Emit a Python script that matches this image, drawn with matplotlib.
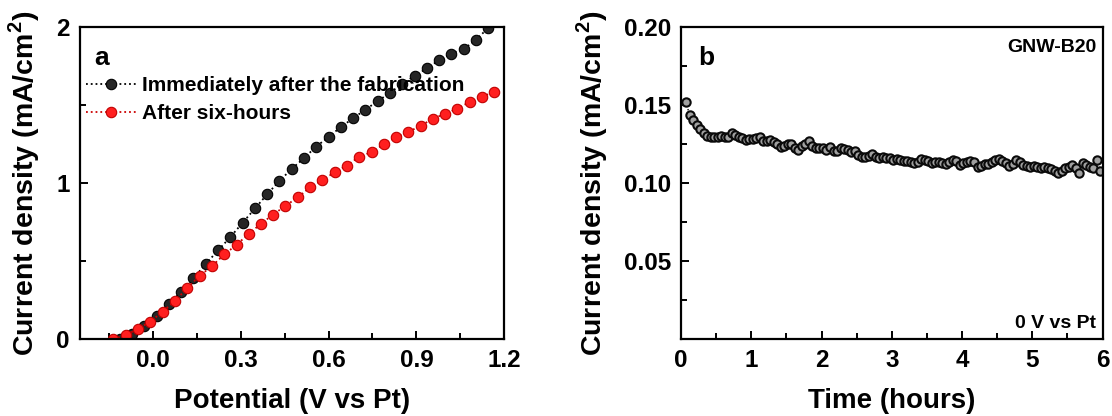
import numpy as np
import matplotlib
matplotlib.use("Agg")
import matplotlib.pyplot as plt
from matplotlib.ticker import MultipleLocator, FixedLocator

plt.rcParams['font.family'] = ['Liberation Sans', 'DejaVu Sans']
plt.rcParams['font.weight'] = 'bold'
plt.rcParams['mathtext.fontset'] = 'custom'
plt.rcParams['mathtext.bf'] = 'Liberation Sans:bold'
plt.rcParams['mathtext.rm'] = 'Liberation Sans:bold'

# panel a: J-V curves
v_fresh = [-0.113, -0.071, -0.029, 0.013, 0.055, 0.097, 0.139, 0.181, 0.223, 0.265, 0.307,
           0.349, 0.391, 0.432, 0.474, 0.516, 0.558, 0.600, 0.642, 0.684, 0.726,
           0.768, 0.810, 0.852, 0.894, 0.935, 0.977, 1.019, 1.061, 1.103, 1.144]
j_fresh = [0.0, 0.030, 0.084, 0.148, 0.224, 0.303, 0.389, 0.482, 0.568, 0.654, 0.746,
           0.837, 0.929, 1.013, 1.090, 1.159, 1.234, 1.295, 1.359, 1.415, 1.471,
           1.525, 1.579, 1.637, 1.686, 1.735, 1.787, 1.830, 1.858, 1.918, 1.992]
v_6h = [-0.134, -0.092, -0.050, -0.008, 0.034, 0.076, 0.118, 0.160, 0.202, 0.244, 0.286,
        0.328, 0.370, 0.411, 0.453, 0.495, 0.537, 0.579, 0.621, 0.663, 0.705,
        0.747, 0.789, 0.831, 0.873, 0.914, 0.956, 0.998, 1.040, 1.082, 1.124, 1.165]
j_6h = [0.0, 0.024, 0.067, 0.112, 0.176, 0.245, 0.327, 0.406, 0.467, 0.542, 0.604,
        0.675, 0.740, 0.798, 0.854, 0.908, 0.972, 1.019, 1.069, 1.112, 1.170,
        1.198, 1.249, 1.295, 1.327, 1.368, 1.411, 1.445, 1.477, 1.520, 1.553, 1.585]

# panel b: stability at 0 V
t_hours = np.arange(0.07, 6.0, 0.05)
j_time = [0.1520, 0.1436, 0.1404, 0.1375, 0.1348, 0.1318, 0.1302, 0.1298, 0.1298, 0.1298,
          0.1300, 0.1298, 0.1296, 0.1320, 0.1308, 0.1296, 0.1290, 0.1276, 0.1280, 0.1284,
          0.1286, 0.1296, 0.1270, 0.1268, 0.1275, 0.1262, 0.1250, 0.1232, 0.1240, 0.1252,
          0.1248, 0.1225, 0.1212, 0.1235, 0.1250, 0.1268, 0.1235, 0.1225, 0.1224, 0.1222,
          0.1212, 0.1228, 0.1208, 0.1205, 0.1225, 0.1218, 0.1212, 0.1200, 0.1205, 0.1178,
          0.1168, 0.1165, 0.1172, 0.1188, 0.1170, 0.1162, 0.1165, 0.1160, 0.1158, 0.1150,
          0.1152, 0.1150, 0.1142, 0.1140, 0.1138, 0.1128, 0.1135, 0.1155, 0.1148, 0.1140,
          0.1130, 0.1138, 0.1135, 0.1130, 0.1125, 0.1132, 0.1145, 0.1140, 0.1115, 0.1130,
          0.1138, 0.1140, 0.1138, 0.1105, 0.1110, 0.1120, 0.1125, 0.1138, 0.1145, 0.1152,
          0.1142, 0.1130, 0.1112, 0.1125, 0.1150, 0.1135, 0.1115, 0.1108, 0.1102, 0.1108,
          0.1100, 0.1098, 0.1102, 0.1095, 0.1090, 0.1078, 0.1062, 0.1080, 0.1098, 0.1105,
          0.1115, 0.1095, 0.1062, 0.1128, 0.1115, 0.1100, 0.1095, 0.1150, 0.1075]
t_hours = t_hours[:len(j_time)]

ylab = 'Current density (mA/cm$^{\\mathbf{2}}$)'

fig = plt.figure(figsize=(11.12, 4.16), dpi=100)
ax1 = fig.add_axes([0.0715, 0.185, 0.382, 0.75])
ax2 = fig.add_axes([0.6125, 0.185, 0.379, 0.75])

ax1.plot(v_fresh, j_fresh, ls=':', color='black', lw=1.3, marker='o', ms=7.5,
         mfc='#262626', mec='black', mew=0.8, label='Immediately after the fabrication')
ax1.plot(v_6h, j_6h, ls=':', color='#cc0000', lw=1.3, marker='o', ms=7.5,
         mfc='#ff1f1f', mec='#c00000', mew=0.8, label='After six-hours')
ax1.set_xlim(-0.25, 1.2)
ax1.set_ylim(0, 2)
ax1.xaxis.set_major_locator(FixedLocator([0.0, 0.3, 0.6, 0.9, 1.2]))
ax1.xaxis.set_minor_locator(MultipleLocator(0.15))
ax1.yaxis.set_major_locator(MultipleLocator(1))
ax1.yaxis.set_minor_locator(MultipleLocator(0.5))
ax1.set_xticklabels(['0.0', '0.3', '0.6', '0.9', '1.2'])
ax1.set_xlabel('Potential (V vs Pt)', fontsize=20, fontweight='bold', labelpad=12)
ax1.set_ylabel(ylab, fontsize=20.5, fontweight='bold', labelpad=10)
ax1.text(0.035, 0.90, 'a', transform=ax1.transAxes, fontsize=19, fontweight='bold', va='center')
ax1.legend(loc='upper left', bbox_to_anchor=(-0.005, 0.87), frameon=False, fontsize=15,
           handlelength=2.4, handletextpad=0.3, labelspacing=0.45, borderaxespad=0)

ax2.plot(t_hours, j_time, ls=':', color='black', lw=1.0, marker='o', ms=6,
         mfc='#a0a0a0', mec='#0a0a0a', mew=1.5)
ax2.set_xlim(0, 6)
ax2.set_ylim(0, 0.2)
ax2.xaxis.set_major_locator(MultipleLocator(1))
ax2.xaxis.set_minor_locator(MultipleLocator(0.5))
ax2.yaxis.set_major_locator(FixedLocator([0.05, 0.10, 0.15, 0.20]))
ax2.yaxis.set_minor_locator(FixedLocator([0.025, 0.075, 0.125, 0.175]))
ax2.set_yticklabels(['0.05', '0.10', '0.15', '0.20'])
ax2.set_xlabel('Time (hours)', fontsize=20, fontweight='bold', labelpad=12)
ax2.set_ylabel(ylab, fontsize=20.5, fontweight='bold', labelpad=10)
ax2.text(0.04, 0.90, 'b', transform=ax2.transAxes, fontsize=19, fontweight='bold', va='center')
ax2.text(0.985, 0.935, 'GNW-B20', transform=ax2.transAxes, fontsize=14, fontweight='bold',
         ha='right', va='center')
ax2.text(0.985, 0.05, '0 V vs Pt', transform=ax2.transAxes, fontsize=14, fontweight='bold',
         ha='right', va='center')

for ax in (ax1, ax2):
    for s in ax.spines.values():
        s.set_linewidth(1.6)
    ax.tick_params(which='both', direction='in', width=1.4, labelsize=17.5, pad=7)
    ax.tick_params(which='major', length=6)
    ax.tick_params(which='minor', length=4)
    for lab in ax.get_xticklabels() + ax.get_yticklabels():
        lab.set_fontweight('bold')

fig.savefig('out.png', dpi=100)
